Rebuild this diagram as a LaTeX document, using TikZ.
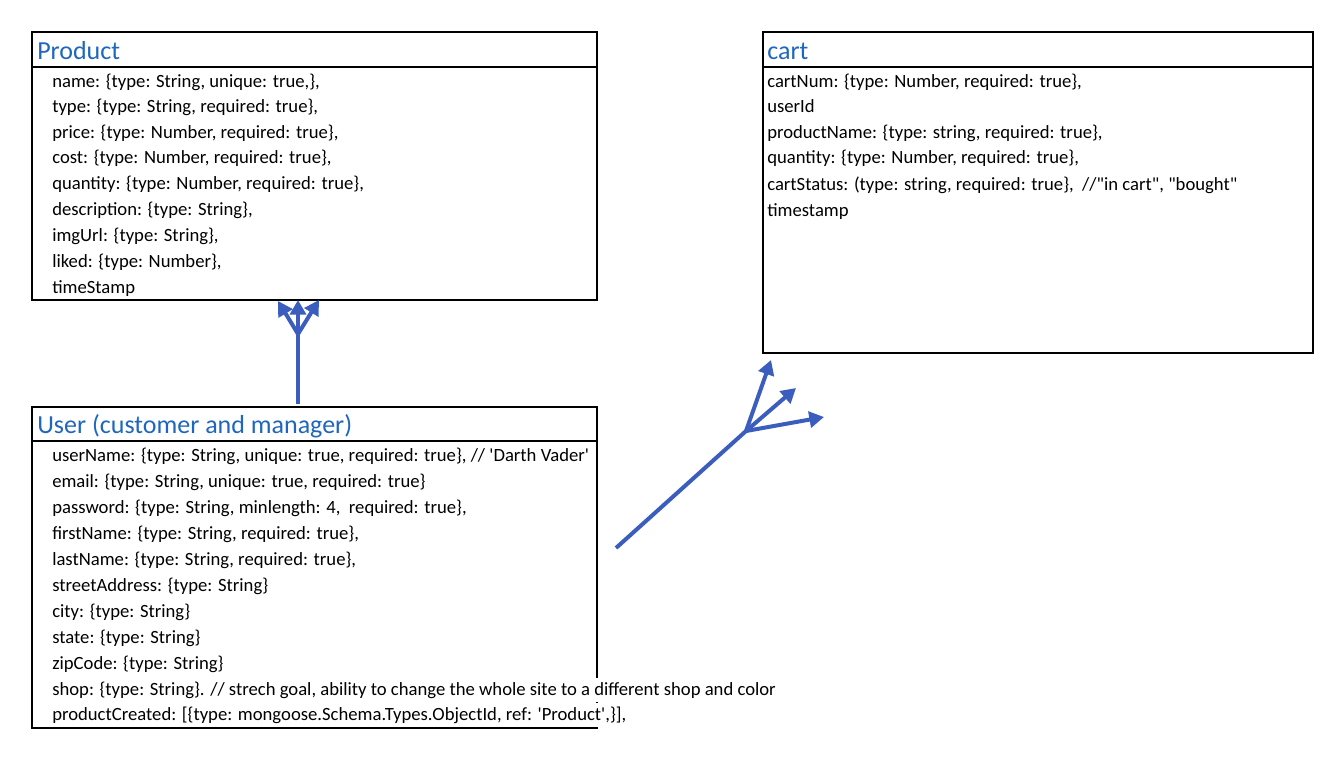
\documentclass[tikz,border=0pt]{standalone}
\usepackage{fontspec}
\setmainfont{Carlito}
\usetikzlibrary{arrows.meta}
\definecolor{titleblue}{HTML}{1F66BF}
\definecolor{linkblue}{HTML}{3A5DBE}
\begin{document}
\begin{tikzpicture}[x=0.75pt,y=-0.75pt,
  box/.style={draw=black, line width=1.5pt, inner sep=0pt, outer sep=0pt, anchor=north west},
  hdr/.style={draw=black, line width=0.9pt},
  title/.style={anchor=west, inner sep=0pt, text=titleblue, font=\fontsize{19.5}{22}\selectfont},
  row/.style={anchor=base west, inner sep=0pt, font=\fontsize{14}{16}\selectfont},
  wrow/.style={row, fill=white, inner ysep=3pt},
  conn/.style={draw=linkblue, line width=3pt},
  tip/.style={conn, -{Triangle[length=11pt,width=12pt]}}]
\useasboundingbox (0,0) rectangle (1340,758);
% boxes
\node[box, minimum width=423.75pt, minimum height=201pt] (prod) at (32,32) {};
\node[box, minimum width=412.5pt, minimum height=240.75pt] (cart) at (763,32) {};
\node[box, minimum width=423.75pt, minimum height=240.75pt] (user) at (32,407) {};
\draw[hdr] (32,67) -- (597,67);
\draw[hdr] (763,67) -- (1313,67);
\draw[hdr] (32,441) -- (597,441);
% titles
\node[title] (ptitle) at (37,51) {Product};
\node[title] (ctitle) at (767,51) {cart};
\node[title] (utitle) at (37,426) {User (customer and manager)};
% product rows
\node[row] (p1) at (52,87) {name: \{type: String, unique: true,\},};
\node[row] (p2) at (52,112) {type: \{type: String, required: true\},};
\node[row] (p3) at (52,138) {price: \{type: Number, required: true\},};
\node[row] (p4) at (52,163) {cost: \{type: Number, required: true\},};
\node[row] (p5) at (52,189) {quantity: \{type: Number, required: true\},};
\node[row] (p6) at (52,215) {description: \{type: String\},};
\node[row] (p7) at (52,241) {imgUrl: \{type: String\},};
\node[row] (p8) at (52,267) {liked: \{type: Number\},};
\node[row] (p9) at (52,293) {timeStamp};
% cart rows
\node[row] (c1) at (767,87) {cartNum: \{type: Number, required: true\},};
\node[row] (c2) at (767,112) {userId};
\node[row] (c3) at (767,138) {productName: \{type: string, required: true\},};
\node[row] (c4) at (767,163) {quantity: \{type: Number, required: true\},};
\node[row] (c5) at (767,190) {cartStatus: (type: string, required: true\},\ \ //\textquotedbl in cart\textquotedbl, \textquotedbl bought\textquotedbl};
\node[row] (c6) at (767,216) {timestamp};
% user rows
\node[row] (u1) at (52,461) {userName: \{type: String, unique: true, required: true\}, // \textquotesingle Darth Vader\textquotesingle};
\node[row] (u2) at (52,487) {email: \{type: String, unique: true, required: true\}};
\node[row] (u3) at (52,513) {password: \{type: String, minlength: 4,\ \ required: true\},};
\node[row] (u4) at (52,539) {firstName: \{type: String, required: true\},};
\node[row] (u5) at (52,565) {lastName: \{type: String, required: true\},};
\node[row] (u6) at (52,591) {streetAddress: \{type: String\}};
\node[row] (u7) at (52,617) {city: \{type: String\}};
\node[row] (u8) at (52,643) {state: \{type: String\}};
\node[row] (u9) at (52,669) {zipCode: \{type: String\}};
\node[wrow] (u10) at (52,695) {shop: \{type: String\}. // strech goal, ability to change the whole site to a different shop and color};
\node[wrow] (u11) at (52,720) {productCreated: [\{type: mongoose.Schema.Types.ObjectId, ref: \textquotesingle Product\textquotesingle,\}],};
% connector user -> product
\coordinate (a0) at (298,404);
\coordinate (a1) at (298,334);
\coordinate (aL) at (278,301);
\coordinate (aM) at (298,300);
\coordinate (aR) at (319,300);
\draw[conn] (a0) -- (a1);
\draw[tip] (a1) -- (aL);
\draw[tip] (a1) -- (aM);
\draw[tip] (a1) -- (aR);
% connector user -> cart
\coordinate (b0) at (616,548);
\coordinate (b1) at (746,431);
\coordinate (bL) at (771,360);
\coordinate (bM) at (796,388);
\coordinate (bR) at (824,417);
\draw[conn] (b0) -- (b1);
\draw[tip] (b1) -- (bL);
\draw[tip] (b1) -- (bM);
\draw[tip] (b1) -- (bR);
\end{tikzpicture}
\end{document}
